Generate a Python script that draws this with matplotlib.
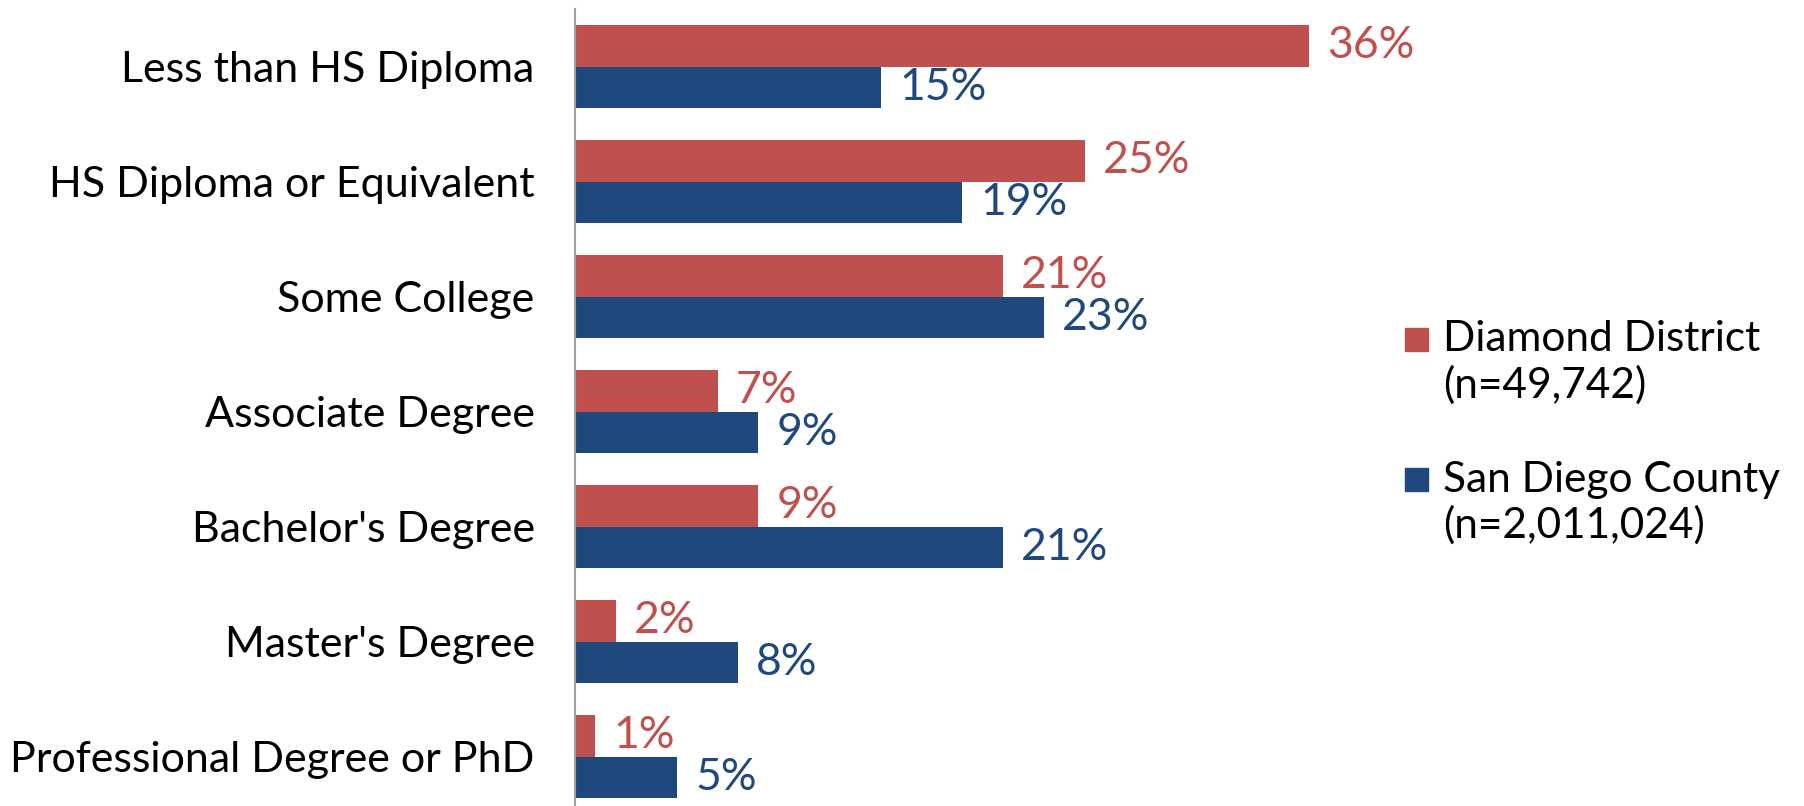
import matplotlib.pyplot as plt
from matplotlib.patches import Rectangle
import numpy as np

plt.rcParams['font.family'] = ['Lato', 'DejaVu Sans']

categories = ['Less than HS Diploma', 'HS Diploma or Equivalent', 'Some College',
              'Associate Degree', "Bachelor's Degree", "Master's Degree",
              'Professional Degree or PhD']
diamond = [36, 25, 21, 7, 9, 2, 1]
county = [15, 19, 23, 9, 21, 8, 5]
series_names = ['Diamond District', 'San Diego County']
series_n = ['(n=49,742)', '(n=2,011,024)']

red = '#C0504D'
blue = '#1F497D'

fig = plt.figure(figsize=(18.04, 8.06), dpi=100)
ax = fig.add_axes([0.3187, -0.01, 0.452, 0.9988])

y = np.arange(len(categories))
h = 0.36
ax.barh(y - h / 2, diamond, height=h, color=red)
ax.barh(y + h / 2, county, height=h, color=blue)

for yi, v in zip(y, diamond):
    ax.text(v + 0.9, yi - h / 2, f'{v}%', color=red, fontsize=32, va='center', ha='left')
for yi, v in zip(y, county):
    ax.text(v + 0.9, yi + h / 2, f'{v}%', color=blue, fontsize=32, va='center', ha='left')

ax.set_xlim(0, 40)
ax.set_ylim(len(categories) - 0.5, -0.5)
ax.set_yticks(y)
ax.set_yticklabels(categories, fontsize=31)
ax.tick_params(axis='y', length=0, pad=29)
ax.set_xticks([])
for s in ['top', 'right', 'bottom']:
    ax.spines[s].set_visible(False)
ax.spines['left'].set_color('#a0a0a0')
ax.spines['left'].set_linewidth(1.5)

# legend
leg_y = [0.579, 0.405]
for ly, name, n, c in zip(leg_y, series_names, series_n, [red, blue]):
    fig.patches.append(Rectangle((0.779, ly - 0.0142), 0.0125, 0.0285, color=c,
                                 transform=fig.transFigure, figure=fig))
    fig.text(0.800, ly, name, fontsize=30.5, va='center', ha='left')
    fig.text(0.800, ly - 0.057, n, fontsize=30.5, va='center', ha='left')

fig.savefig('out.png', dpi=100)
